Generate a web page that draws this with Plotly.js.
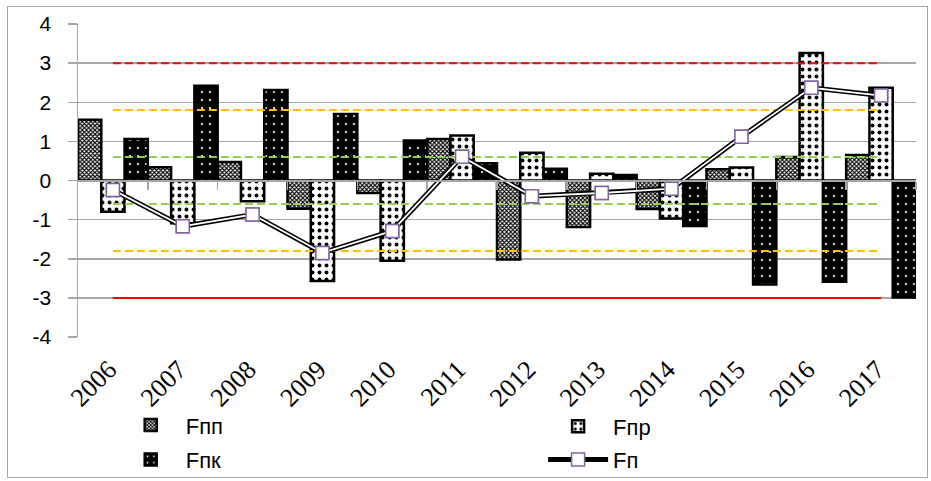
<!DOCTYPE html>
<html>
<head>
<meta charset="utf-8">
<script src="https://cdn.plot.ly/plotly-3.0.1.min.js"></script>
<style>
  html, body { margin: 0; padding: 0; background: #fff; }
  #wrap { position: relative; width: 931px; height: 481px; }
  #chart { position: absolute; left: 0; top: 0; width: 931px; height: 481px; }
  #frame { position: absolute; left: 7px; top: 6px; width: 919px; height: 470px; border: 1px solid #a6a6a6; pointer-events: none; }
</style>
</head>
<body>
<div id="wrap">
  <div id="chart"></div>
  <div id="frame"></div>
</div>
<script>
// ---- data ----
const years = [2006, 2007, 2008, 2009, 2010, 2011, 2012, 2013, 2014, 2015, 2016, 2017];
const yearLabels = ["2006", "2007", "2008", "2009", "2010", "2011", "2012", "2013", "2014", "2015", "2016", "2017"];
const Fpp = [1.55, 0.34, 0.47, -0.72, -0.32, 1.06, -2.02, -1.19, -0.73, 0.29, 0.60, 0.65];
const Fpr = [-0.80, -1.09, -0.53, -2.57, -2.05, 1.15, 0.71, 0.17, -0.97, 0.33, 3.26, 2.37];
const Fpk = [1.06, 2.42, 2.31, 1.70, 1.02, 0.44, 0.30, 0.14, -1.16, -2.66, -2.59, -2.99];
const Fp  = [-0.24, -1.17, -0.87, -1.85, -1.29, 0.61, -0.40, -0.32, -0.21, 1.12, 2.37, 2.17];
const seriesNames = ["Fпп", "Fпр", "Fпк", "Fп"];
const limitValues = [3, 1.8, 0.6, -0.6, -1.8, -3];
const limitColors = ["#FF0000", "#FFC000", "#92D050", "#92D050", "#FFC000", "#FF0000"];
const limitDashes = ["8px,4px", "8px,4px", "8px,4px", "8px,4px", "8px,4px", "solid"];
const yTicks = [-4, -3, -2, -1, 0, 1, 2, 3, 4];

const boundaries = years.map(y => y + 0.5);
const firstYear = years[0], lastYear = years[years.length - 1];

const barLine = { color: "#000000", width: 2.5 };

const traces = [];
traces.push({
  type: "bar", name: seriesNames[0], x: years, y: Fpp, legend: "legend",
  marker: { color: "#ffffff", line: barLine,
    pattern: { shape: "x", size: 3, solidity: 0.6, fgcolor: "#000000", bgcolor: "#ffffff", fillmode: "replace" } }
});
traces.push({
  type: "bar", name: seriesNames[1], x: years, y: Fpr, legend: "legend2",
  marker: { color: "#ffffff", line: barLine,
    pattern: { shape: ".", size: 7, solidity: 0.25, fgcolor: "#000000", bgcolor: "#ffffff", fillmode: "replace" } }
});
traces.push({
  type: "bar", name: seriesNames[2], x: years, y: Fpk, legend: "legend3",
  marker: { color: "#000000", line: barLine,
    pattern: { shape: ".", size: 8, solidity: 0.06, fgcolor: "#ffffff", bgcolor: "#000000", fillmode: "replace" } }
});

// threshold lines
limitValues.forEach((v, i) => {
  traces.push({
    type: "scatter", mode: "lines", x: [firstYear, lastYear], y: [v, v],
    line: { color: limitColors[i], width: 2, dash: limitDashes[i] },
    showlegend: false, hoverinfo: "skip"
  });
});

// Fп double line
traces.push({
  type: "scatter", mode: "lines+markers", name: seriesNames[3], x: years, y: Fp, legend: "legend4",
  line: { color: "#000000", width: 5 },
  marker: { symbol: "square", size: 13, color: "#ffffff", line: { color: "#8064A2", width: 1.5 } }
});
traces.push({
  type: "scatter", mode: "lines", x: years, y: Fp, showlegend: false, hoverinfo: "skip",
  line: { color: "#ffffff", width: 1.8 }
});
traces.push({
  type: "scatter", mode: "markers", x: years, y: Fp, showlegend: false, hoverinfo: "skip",
  marker: { symbol: "square", size: 13, color: "#ffffff", line: { color: "#8064A2", width: 1.5 } }
});

// dummy trace for the zero axis
traces.push({
  type: "scatter", mode: "markers", x: years, y: years.map(() => null), xaxis: "x2",
  showlegend: false, hoverinfo: "skip"
});

const gridColor = "#a6a6a6";
const legendFont = { family: "Liberation Sans, Arial, sans-serif", size: 22, color: "#000" };
function legendAt(x, y) {
  return {
    orientation: "v", x: x, xanchor: "left", y: y, yanchor: "middle",
    itemwidth: 60, font: legendFont, bgcolor: "rgba(0,0,0,0)"
  };
}

const layout = {
  width: 931, height: 481,
  margin: { l: 78, r: 15, t: 24, b: 144, pad: 0, autoexpand: false },
  paper_bgcolor: "#ffffff", plot_bgcolor: "#ffffff",
  barmode: "group", bargap: 0, bargroupgap: 0,
  showlegend: true,
  xaxis: {
    range: [firstYear - 0.5, lastYear + 0.5],
    tickvals: years, ticktext: yearLabels, tickangle: -45,
    ticks: "", showgrid: false, zeroline: false, showline: false,
    ticklabelstandoff: 11, ticklabelshift: -4, automargin: false,
    tickfont: { family: "Liberation Serif, Times New Roman, serif", size: 26, color: "#000" }
  },
  xaxis2: {
    overlaying: "x", anchor: "free", position: 0.5,
    range: [firstYear - 0.5, lastYear + 0.5],
    tickvals: boundaries, showticklabels: false,
    ticks: "outside", ticklen: 8, tickwidth: 1.5, tickcolor: gridColor,
    showline: true, linecolor: gridColor, linewidth: 2,
    showgrid: false, zeroline: false, layer: "above traces"
  },
  yaxis: {
    range: [-4, 4], tickvals: yTicks, ticktext: yTicks.map(String),
    showgrid: true, gridcolor: gridColor, gridwidth: 1.5,
    zeroline: false, showline: true, linecolor: gridColor, linewidth: 1.5,
    ticks: "outside", ticklen: 9, tickwidth: 1.5, tickcolor: gridColor,
    ticklabelstandoff: 12, automargin: false,
    tickfont: { family: "Liberation Sans, Arial, sans-serif", size: 21, color: "#000" }
  },
  legend:  legendAt(0.045, -0.282),
  legend2: legendAt(0.555, -0.286),
  legend3: legendAt(0.045, -0.392),
  legend4: legendAt(0.555, -0.392)
};

Plotly.newPlot("chart", traces, layout, { displayModeBar: false, staticPlot: true });
</script>
</body>
</html>
